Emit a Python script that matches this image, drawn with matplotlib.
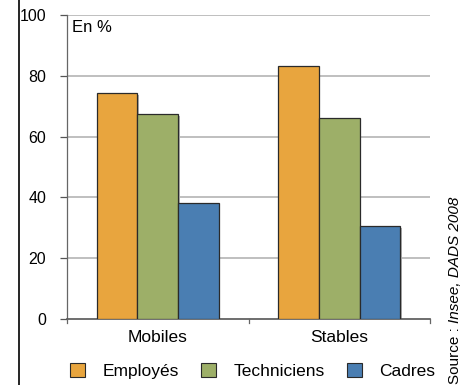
import matplotlib
matplotlib.use('Agg')
import numpy as np
import matplotlib.pyplot as plt
from matplotlib.lines import Line2D
from matplotlib.patches import Patch

groups = ['Mobiles', 'Stables']
series = ['Employés', 'Techniciens', 'Cadres']
values = {
    'Employés': [74.3, 83.2],
    'Techniciens': [67.4, 66.1],
    'Cadres': [38.2, 30.6],
}
colors = ['#E8A53E', '#9DAF68', '#4A7EB2']
yticks = [0, 20, 40, 60, 80, 100]

plt.rcParams['font.family'] = ['Liberation Sans Narrow', 'Liberation Sans', 'DejaVu Sans']

fig = plt.figure(figsize=(4.75, 3.85), dpi=100)
ax = fig.add_axes([67 / 475, 1 - 319 / 385, (430 - 67) / 475, (319 - 15) / 385])

x = np.arange(len(groups))
w = 0.224
for i, (name, col) in enumerate(zip(series, colors)):
    xs = x + (i - 1) * w
    # faint drop shadow
    ax.bar(xs + 0.008, values[name], w, bottom=-0.6, color='#b0b0b0', zorder=2)
    ax.bar(xs, values[name], w, color=col, edgecolor='#2a2a2a', linewidth=0.9, zorder=3)

ax.set_xlim(-0.5, 1.5)
ax.set_ylim(0, 100)
ax.set_yticks(yticks)
ax.set_yticklabels([str(v) for v in yticks], fontsize=11.5)
ax.set_xticks(x)
ax.set_xticklabels(groups, fontsize=12.5)
ax.tick_params(axis='x', length=0, pad=8)
ax.tick_params(axis='y', length=5, width=0.9, color='#555555', pad=10)
for v in yticks[1:]:
    ax.axhline(v, color='#b4b4b4', linewidth=1.2, zorder=1)
# separators below the category axis
for xv in [-0.5, 0.5, 1.5]:
    ax.plot([xv, xv], [0, -1.3], color='#666666', linewidth=0.9, clip_on=False, zorder=4)

for s in ['top', 'right']:
    ax.spines[s].set_visible(False)
ax.spines['left'].set_color('#666666')
ax.spines['left'].set_linewidth(0.9)
ax.spines['bottom'].set_color('#555555')
ax.spines['bottom'].set_linewidth(1.2)

ax.text(0.015, 0.985, 'En %', transform=ax.transAxes, fontsize=12, va='top', ha='left')

# frame line at the left edge
fig.add_artist(Line2D([19 / 475, 19 / 475], [0, 1], color='black', linewidth=1.2))

handles = [Patch(facecolor=c, edgecolor='#2a2a2a', linewidth=0.8) for c in colors]
fig.legend(handles, series, loc='lower left', bbox_to_anchor=(60 / 475, -0.012),
           ncol=3, frameon=False, fontsize=12.5, handlelength=0.85, handleheight=0.85,
           handletextpad=1.0, columnspacing=1.3, borderaxespad=0.2)

t1 = fig.text(455 / 475, 1 / 385, 'Source : ', rotation=90, ha='center', va='bottom', fontsize=11)
fig.canvas.draw()
bb = t1.get_window_extent()
fig.text(455 / 475, bb.y1 / fig.bbox.height, 'Insee, DADS 2008', rotation=90,
         ha='center', va='bottom', fontsize=11, style='italic')

fig.savefig('out.png', dpi=100)
